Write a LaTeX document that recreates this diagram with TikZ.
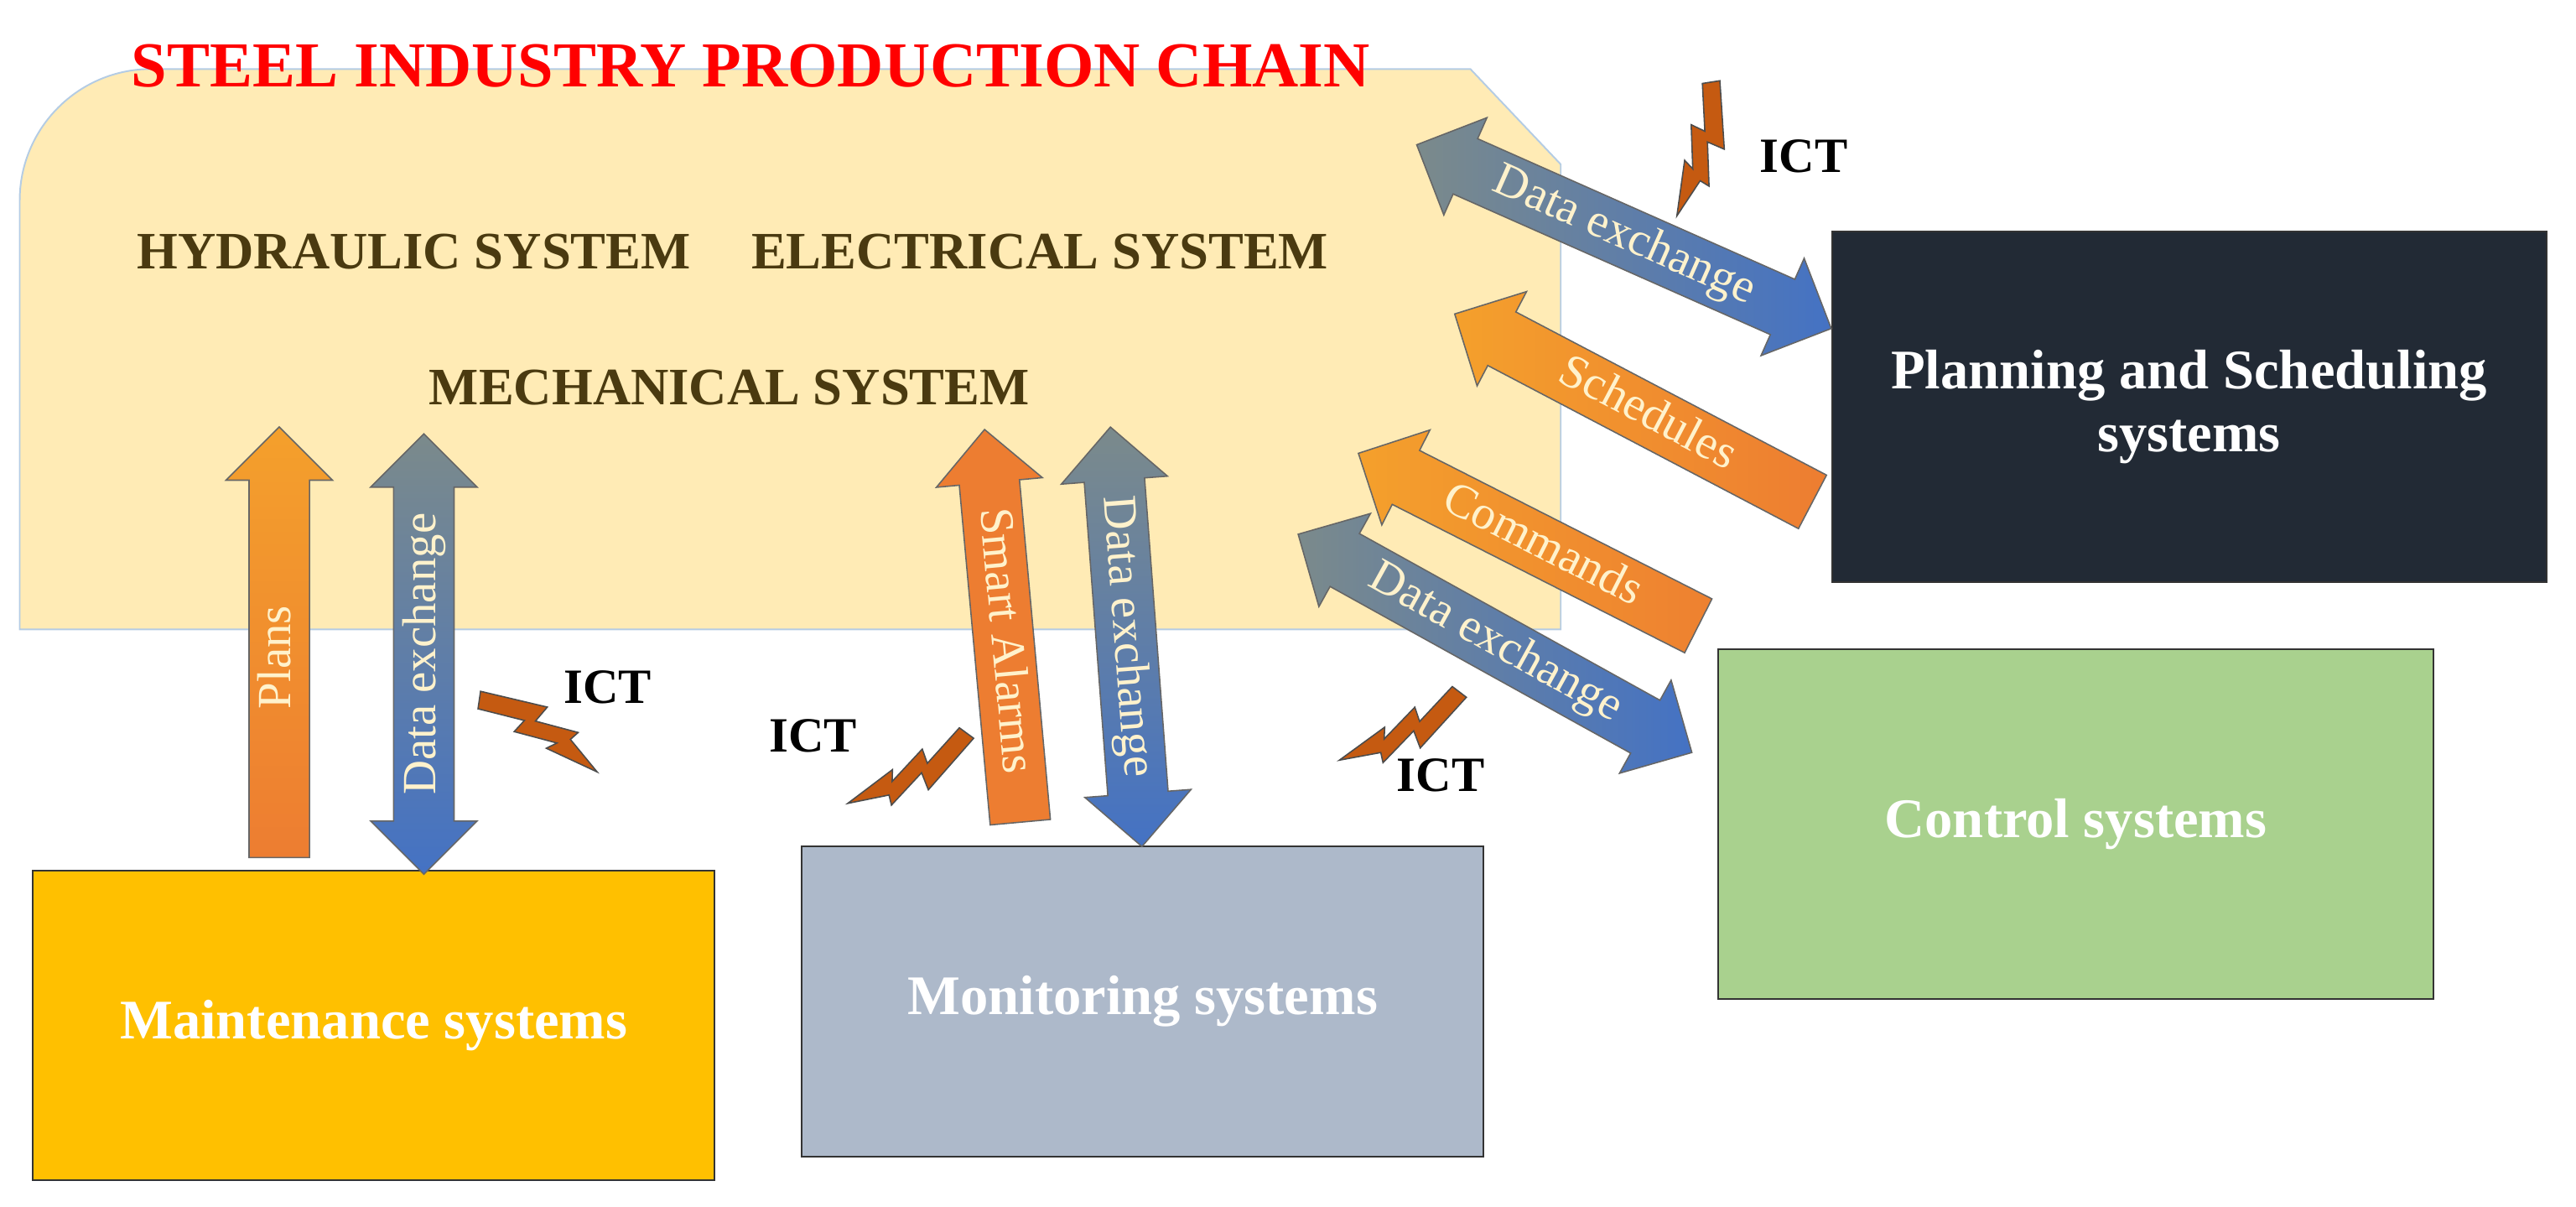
\documentclass[tikz,border=0pt]{standalone}
\usepackage{fontspec}
\setmainfont{Liberation Serif}
\usetikzlibrary{shapes.arrows}
\definecolor{boxyel}{HTML}{FFC000}
\definecolor{boxgray}{HTML}{ADB9CA}
\definecolor{boxgreen}{HTML}{A9D18E}
\definecolor{boxdark}{HTML}{222A35}
\definecolor{chain}{HTML}{FFEBB5}
\definecolor{chainline}{HTML}{B4CCE4}
\definecolor{sysbrown}{HTML}{4A3A10}
\definecolor{aor}{HTML}{ED7D31}
\definecolor{aorl}{HTML}{F4A02C}
\definecolor{agr}{HTML}{7B8A8B}
\definecolor{abl}{HTML}{4472C4}
\definecolor{bolt}{HTML}{C55A11}
\definecolor{cream}{HTML}{FFF2CC}
\tikzset{
 sysbox/.style={draw=black!80,line width=0.5pt,font=\bfseries\fontsize{17}{19}\selectfont,text=white,align=center},
 sys/.style={font=\bfseries\fontsize{16}{18}\selectfont,text=sysbrown},
 arr/.style={draw=black!60,line width=0.4pt,font=\fontsize{14.5}{16}\selectfont,text=cream,
   text height=10pt,text depth=3pt,inner ysep=2.5pt,inner xsep=2pt},
 sarr/.style={arr,single arrow,single arrow head extend=7pt},
 darr/.style={arr,double arrow,double arrow head extend=7pt},
 ict/.style={font=\bfseries\fontsize{15}{17}\selectfont},
 pics/bolt/.style={code={\fill[bolt,draw=black!70,line width=0.4pt]
  (0,-5) -- (40,-17) -- (38,-6) -- (64,-13) -- (62,-7) -- (86,2) -- (52,5) -- (56,-1) -- (30,6) -- (32,-3) -- (4,5) -- cycle;}}
}
\begin{document}
\begin{tikzpicture}[x=0.5pt,y=-0.5pt]
\useasboundingbox (0,0) rectangle (1568,734);
% chain area
\path[fill=chain,draw=chainline,line width=0.5pt]
 (12,383) -- (12,122) arc[start angle=180,end angle=270,radius=80] -- (895,42) -- (950,100) -- (950,383) -- cycle;
\node[font=\bfseries\fontsize{19.5}{21}\selectfont,text=red] (title) at (457,40) {STEEL INDUSTRY PRODUCTION CHAIN};
\node[sys] (hyd) at (252,153) {HYDRAULIC SYSTEM};
\node[sys] (ele) at (633,153) {ELECTRICAL SYSTEM};
\node[sys] (mec) at (444,236) {MECHANICAL SYSTEM};
% boxes
\node[sysbox,fill=boxyel,minimum width=207.5pt,minimum height=94pt] (mnt) at (227.5,624) {Maintenance systems};
\node[sysbox,fill=boxgray,minimum width=207.5pt,minimum height=94.5pt] (mon) at (695.5,609.5) {Monitoring systems};
\node[sysbox,fill=boxgreen,minimum width=217.5pt,minimum height=106.5pt] (ctl) at (1263.5,501.5) {Control systems};
\node[sysbox,fill=boxdark,minimum width=217.5pt,minimum height=106.5pt] (pln) at (1332.5,247.5) {Planning and Scheduling\\systems};
% arrows
\node[sarr,minimum height=131pt,rotate=90,top color=aorl,bottom color=aor] (plans) at (170,400) {Plans};
\node[darr,minimum height=134pt,rotate=90,top color=agr,bottom color=abl] (dx1) at (258,398) {Data exchange};
\node[sarr,minimum height=120pt,rotate=-84.8,shape border rotate=180,fill=aor] (alarm) at (611,390) {Smart Alarms};
\node[darr,minimum height=128pt,rotate=-85.7,top color=agr,bottom color=abl] (dx2) at (685.5,387.5) {Data exchange};
\node[darr,minimum height=138pt,rotate=-23.9,left color=agr,right color=abl] (dx3) at (988.5,144) {Data exchange};
\node[sarr,minimum height=123pt,rotate=-27.7,shape border rotate=180,left color=aorl,right color=aor] (sch) at (1002.5,252.5) {Schedules};
\node[sarr,minimum height=116pt,rotate=-26.9,shape border rotate=180,left color=aorl,right color=aor!90!aorl] (cmd) at (938.5,332.5) {Commands};
\node[darr,minimum height=137pt,rotate=-29,left color=agr,right color=abl] (dx4) at (910,391.5) {Data exchange};
% ICT
\pic[rotate=-103] at (1042,48) {bolt};
\node[ict] (ict1) at (1098,95) {ICT};
\pic[rotate=-30] at (290,425) {bolt};
\node[ict] (ict2) at (370,418) {ICT};
\pic[rotate=212] at (590,445) {bolt};
\node[ict] (ict3) at (495,448) {ICT};
\pic[rotate=211] at (890,420) {bolt};
\node[ict] (ict4) at (877,472) {ICT};
\end{tikzpicture}
\end{document}
